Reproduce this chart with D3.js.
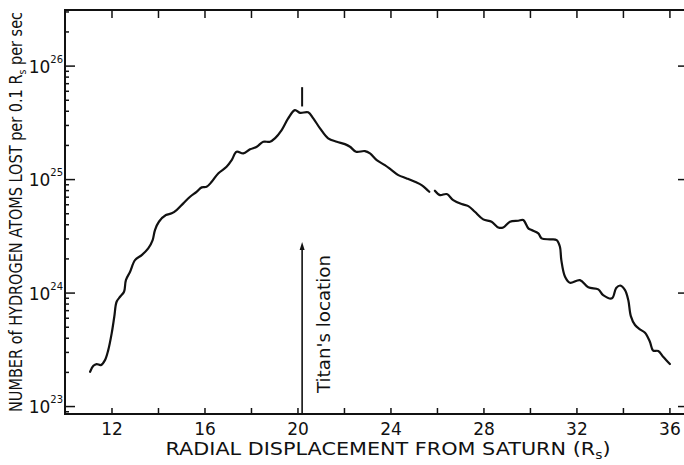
<!DOCTYPE html>
<html>
<head>
<meta charset="utf-8">
<script src="https://cdn.jsdelivr.net/npm/d3@7"></script>
<style>
  body { margin: 0; background: #fff; }
  svg { display: block; }
</style>
</head>
<body>
<div id="visual"></div>
<script>
// radial displacement from Saturn (Rs)
const radius = [
  11.08, 11.22, 11.36, 11.54, 11.72, 11.86, 12.01, 12.12, 12.22, 12.37,
  12.54, 12.62, 12.80, 13.01, 13.30, 13.58, 13.77, 13.87, 14.04, 14.34,
  14.59, 14.80, 15.09, 15.38, 15.66, 15.88, 16.09, 16.31, 16.59, 16.95,
  17.17, 17.38, 17.67, 17.96, 18.25, 18.53, 18.82, 19.03, 19.32, 19.60,
  19.89, 20.11, 20.46, 20.68, 20.97, 21.32, 21.69, 22.04, 22.26, 22.52,
  22.90, 23.12, 23.41, 23.76, 24.05, 24.34, 24.70, 25.05, 25.34, 25.67,
  25.79,
  25.91, 26.13, 26.42, 26.70, 27.06, 27.35, 27.63, 27.99, 28.35, 28.64,
  28.85, 29.14, 29.50, 29.71, 29.93, 30.07, 30.36, 30.50, 30.86, 31.15,
  31.29, 31.35, 31.51, 31.72, 32.15, 32.51, 32.94, 33.15, 33.53, 33.71,
  33.89, 34.09, 34.23, 34.34, 34.52, 34.73, 34.95, 35.16, 35.30, 35.52,
  35.73, 36.02
];
// log10 of hydrogen atoms lost per 0.1 Rs per sec (null = break in the trace)
const logAtoms = [
  23.302, 23.355, 23.370, 23.361, 23.405, 23.493, 23.643, 23.787, 23.919, 23.963,
  24.007, 24.110, 24.183, 24.286, 24.330, 24.389, 24.463, 24.551, 24.624, 24.683,
  24.698, 24.727, 24.786, 24.844, 24.888, 24.927, 24.932, 24.976, 25.050, 25.108,
  25.167, 25.241, 25.226, 25.262, 25.285, 25.329, 25.329, 25.359, 25.432, 25.535,
  25.608, 25.584, 25.588, 25.535, 25.447, 25.359, 25.329, 25.308, 25.285, 25.241,
  25.247, 25.226, 25.167, 25.123, 25.079, 25.035, 25.006, 24.976, 24.947, 24.888,
  null,
  24.897, 24.859, 24.868, 24.815, 24.780, 24.762, 24.712, 24.645, 24.624, 24.574,
  24.574, 24.624, 24.633, 24.639, 24.566, 24.551, 24.522, 24.478, 24.469, 24.463,
  24.404, 24.286, 24.139, 24.086, 24.110, 24.046, 24.028, 23.978, 23.949, 24.040,
  24.062, 24.022, 23.934, 23.793, 23.714, 23.676, 23.646, 23.567, 23.489, 23.485,
  23.434, 23.370
];

const xTicks = [12, 14, 16, 18, 20, 22, 24, 26, 28, 30, 32, 34, 36];
const xTickLabels = [12, 16, 20, 24, 28, 32, 36];
const yDecades = [23, 24, 25, 26];
const yExtent = [22.93, 26.49];
const xExtent = [10, 36.67];

// Titan's location and the short mark above the peak
const titanR = 20.2;
const titanArrowTop = 24.445;
const peakMark = [25.64, 25.81];

function titanChart() {
    let margin = {top: 10, right: -1, bottom: 51, left: 65},
    width = 684 - margin.left - margin.right,
    height = 465 - margin.top - margin.bottom;

    const FONT = "DejaVu Sans, sans-serif";
    const INK = "#111";

    let chart = function chart(selector) {
        let root = d3.select(selector)
            .append("svg")
            .attr("width", 684)
            .attr("height", 465);

        let svg = root.append("g")
            .attr("transform", "translate(" + margin.left + "," + margin.top + ")");

        let x = d3.scaleLinear().domain(xExtent).range([0, width]);
        let y = d3.scaleLog()
            .domain(yExtent.map(v => Math.pow(10, v)))
            .range([height, 0]);

        // minor log ticks 2..9 in every decade that fits
        let minor = [];
        d3.range(22, 27).forEach(function (e) {
            d3.range(2, 10).forEach(function (m) {
                let v = m * Math.pow(10, e);
                if (v > y.domain()[0] && v < y.domain()[1]) minor.push(v);
            });
        });
        let major = yDecades.map(e => Math.pow(10, e));

        function styleAxis(g) {
            g.select(".domain").remove();
            g.selectAll("line").attr("stroke", INK).attr("stroke-width", 1.5);
        }

        // bottom axis
        svg.append("g")
            .attr("transform", "translate(0," + height + ")")
            .call(d3.axisBottom(x).tickValues(xTicks).tickSize(-6).tickPadding(9)
                .tickFormat(d => xTickLabels.includes(d) ? d : ""))
            .call(styleAxis)
            .selectAll("text")
            .style("font-family", FONT)
            .style("font-size", "17px")
            .style("fill", INK);

        // top axis, unlabelled
        svg.append("g")
            .call(d3.axisTop(x).tickValues(xTicks).tickSize(-8).tickFormat(""))
            .call(styleAxis);

        // left axis: decades long, minors short
        svg.append("g")
            .call(d3.axisLeft(y).tickValues(major).tickSize(-10).tickFormat(""))
            .call(styleAxis);
        svg.append("g")
            .call(d3.axisLeft(y).tickValues(minor).tickSize(-4).tickFormat(""))
            .call(styleAxis);

        // right axis, decades only
        svg.append("g")
            .attr("transform", "translate(" + width + ",0)")
            .call(d3.axisRight(y).tickValues(major).tickSize(-7).tickFormat(""))
            .call(styleAxis);

        // decade labels 10^n
        let ylab = svg.selectAll(".ylab")
            .data(yDecades)
            .enter()
            .append("text")
            .attr("class", "ylab")
            .attr("x", -2)
            .attr("y", d => y(Math.pow(10, d)) + 7)
            .attr("text-anchor", "end")
            .style("font-family", FONT)
            .style("fill", INK);
        ylab.append("tspan").style("font-size", "17px").text("10");
        ylab.append("tspan").attr("dy", -10).style("font-size", "10px").text(d => d);

        // frame
        svg.append("rect")
            .attr("width", width)
            .attr("height", height)
            .attr("fill", "none")
            .attr("stroke", INK)
            .attr("stroke-width", 2);

        // the trace
        let points = radius.map((r, i) => ({r: r, v: logAtoms[i]}));
        let line = d3.line()
            .defined(d => d.v !== null)
            .x(d => x(d.r))
            .y(d => y(Math.pow(10, d.v)))
            .curve(d3.curveCatmullRom.alpha(0.5));

        svg.append("path")
            .datum(points)
            .attr("d", line)
            .attr("fill", "none")
            .attr("stroke", INK)
            .attr("stroke-width", 2.2)
            .attr("stroke-linejoin", "round")
            .attr("stroke-linecap", "round");

        // short mark above the peak
        svg.append("line")
            .attr("x1", x(titanR)).attr("x2", x(titanR))
            .attr("y1", y(Math.pow(10, peakMark[0])))
            .attr("y2", y(Math.pow(10, peakMark[1])))
            .attr("stroke", INK)
            .attr("stroke-width", 2);

        // Titan arrow
        let ax = x(titanR), ay = y(Math.pow(10, titanArrowTop));
        svg.append("line")
            .attr("x1", ax).attr("x2", ax)
            .attr("y1", height).attr("y2", ay + 4)
            .attr("stroke", INK)
            .attr("stroke-width", 1.6);
        svg.append("path")
            .attr("d", "M" + ax + "," + ay + "l-2.5,8h5z")
            .attr("fill", INK);

        svg.append("text")
            .attr("transform", "translate(" + (ax + 28) + "," + (324 - margin.top) + ")rotate(-90)")
            .attr("text-anchor", "middle")
            .attr("textLength", 138)
            .attr("lengthAdjust", "spacingAndGlyphs")
            .style("font-family", FONT)
            .style("font-size", "18px")
            .style("fill", INK)
            .text("Titan's location");

        // x title
        let xt = root.append("text")
            .attr("x", 388)
            .attr("y", 455)
            .attr("text-anchor", "middle")
            .attr("textLength", 445)
            .attr("lengthAdjust", "spacingAndGlyphs")
            .style("font-family", FONT)
            .style("font-size", "18px")
            .style("fill", INK);
        xt.append("tspan").text("RADIAL DISPLACEMENT FROM SATURN (R");
        xt.append("tspan").attr("dy", 4).style("font-size", "12px").text("s");
        xt.append("tspan").attr("dy", -4).text(")");

        // y title
        let yt = root.append("text")
            .attr("transform", "translate(22,212)rotate(-90)")
            .attr("text-anchor", "middle")
            .attr("textLength", 400)
            .attr("lengthAdjust", "spacingAndGlyphs")
            .style("font-family", FONT)
            .style("font-size", "17px")
            .style("fill", INK);
        yt.append("tspan").text("NUMBER of HYDROGEN ATOMS LOST per 0.1 R");
        yt.append("tspan").attr("dy", 4).style("font-size", "11px").text("s");
        yt.append("tspan").attr("dy", -4).text(" per sec");
    };

    return chart;
}

try {
    let myChart = titanChart();
    myChart("#visual");
} catch (err) {
    console.log(err);
}
</script>
</body>
</html>
